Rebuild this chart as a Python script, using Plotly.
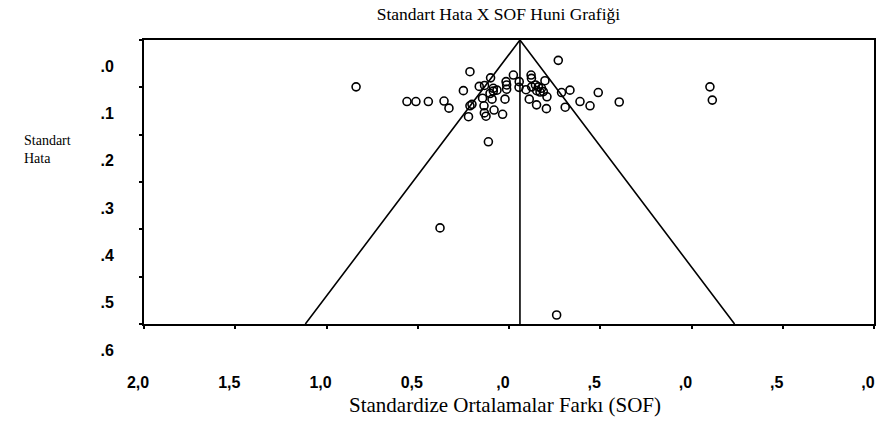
import plotly.graph_objects as go

# study effects (SOF) and standard errors
sof = [-0.838, 0.270, -0.214, -0.559, -0.510, -0.442, -0.356, -0.329, -0.250, -0.214,
       -0.203, -0.222, -0.137, -0.135, -0.126, -0.082, -0.035, -0.113, -0.163, -0.134,
       -0.101, -0.086, -0.086, -0.066, -0.104, -0.145, -0.093, -0.022, -0.016, -0.013,
       -0.013, 0.024, 0.056, 0.055, 0.093, 0.121, 0.123, 0.111, 0.124, 0.145,
       0.161, 0.178, 0.152, 0.170, 0.197, 0.208, 0.205, 0.151, 0.188, 0.288,
       0.334, 0.308, 0.389, 0.444, 0.489, 0.604, 1.101, 1.114, -0.378, 0.261]
se = [0.099, 0.043, 0.067, 0.130, 0.130, 0.130, 0.129, 0.144, 0.107, 0.139,
      0.136, 0.162, 0.139, 0.154, 0.161, 0.148, 0.157, 0.215, 0.098, 0.096,
      0.080, 0.102, 0.108, 0.106, 0.113, 0.123, 0.125, 0.125, 0.088, 0.095,
      0.104, 0.074, 0.088, 0.100, 0.105, 0.074, 0.081, 0.125, 0.099, 0.095,
      0.099, 0.102, 0.107, 0.110, 0.086, 0.120, 0.145, 0.137, 0.109, 0.111,
      0.106, 0.142, 0.130, 0.139, 0.111, 0.131, 0.099, 0.127, 0.397, 0.581]

mean_effect = 0.06
mean_marker_se = 0.621
se_max = 0.6
z = 1.96

x_ticks = [-2.0, -1.5, -1.0, -0.5, 0.0, 0.5, 1.0, 1.5, 2.0]
x_ticktext = ["2,0", "1,5", "1,0", "0,5", ",0", ",5", ",0", ",5", ",0"]
y_ticks = [0.0, 0.1, 0.2, 0.3, 0.4, 0.5, 0.6]
y_ticktext = [".0", ".1", ".2", ".3", ".4", ".5", ".6"]

fig = go.Figure()

# funnel
fig.add_trace(go.Scatter(
    x=[mean_effect - z * se_max, mean_effect, mean_effect + z * se_max],
    y=[se_max, 0, se_max],
    mode="lines", line=dict(color="black", width=1.6),
    hoverinfo="skip", showlegend=False))
fig.add_trace(go.Scatter(
    x=[mean_effect, mean_effect], y=[0, se_max],
    mode="lines", line=dict(color="black", width=1.6),
    hoverinfo="skip", showlegend=False))

# studies
fig.add_trace(go.Scatter(
    x=sof, y=se, mode="markers",
    marker=dict(symbol="circle-open", size=8, color="black", line=dict(width=1.6)),
    showlegend=False))

# combined effect
fig.add_trace(go.Scatter(
    x=[mean_effect], y=[mean_marker_se], mode="markers",
    marker=dict(symbol="diamond-open", size=8, color="black", line=dict(width=1.5)),
    cliponaxis=False, showlegend=False))

serif = "Liberation Serif"

fig.update_layout(
    width=876, height=428,
    margin=dict(l=144, r=2, t=40, b=104),
    plot_bgcolor="white", paper_bgcolor="white",
    title=dict(text="Standart Hata X SOF Huni Grafiği", x=0.569, xanchor="center",
               y=0.967, yanchor="middle",
               font=dict(family=serif, size=17.5, color="black")),
    annotations=[
        dict(text="Standart<br>Hata", xref="paper", yref="paper",
             x=-0.097, y=0.616, xanchor="right", yanchor="middle", align="left",
             showarrow=False, font=dict(family=serif, size=14, color="black")),
        dict(text="Standardize Ortalamalar Farkı (SOF)", xref="paper", yref="paper",
             x=0.495, y=-0.285, xanchor="center", yanchor="middle",
             showarrow=False, font=dict(family=serif, size=21, color="black")),
    ],
)

fig.update_xaxes(
    range=[-2, 2], tickvals=x_ticks, ticktext=x_ticktext, automargin=False,
    showgrid=False, zeroline=False, showline=True, linecolor="black", linewidth=2,
    mirror=True, ticks="outside", ticklen=3, tickwidth=2, tickcolor="black",
    ticklabelstandoff=40, ticklabelshift=-6,
    tickfont=dict(family="Liberation Sans", size=16, color="black", weight="bold"))

fig.update_yaxes(
    range=[se_max, 0], tickvals=y_ticks, ticktext=y_ticktext, automargin=False,
    showgrid=False, zeroline=False, showline=True, linecolor="black", linewidth=2,
    mirror=True, ticks="outside", ticklen=3, tickwidth=2, tickcolor="black",
    ticklabelstandoff=22, ticklabelshift=-26,
    tickfont=dict(family="Liberation Sans", size=16, color="black", weight="bold"))

# the page body has a default margin; drop it so the figure fills the window
fig.write_html("out.html", config={"displayModeBar": False},
               post_script="document.body.style.margin='0';")
